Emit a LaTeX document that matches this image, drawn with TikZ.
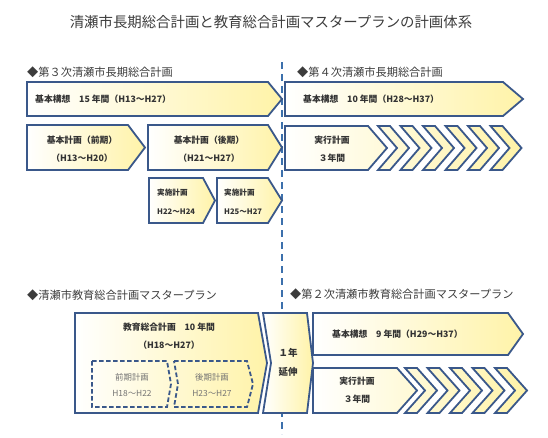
\documentclass[tikz,border=0pt]{standalone}
\usepackage{fontspec}
\setmainfont{Noto Sans CJK JP}
\definecolor{planblue}{RGB}{58,88,138}
\definecolor{lineblue}{RGB}{60,112,172}
\definecolor{planyellow}{RGB}{255,243,168}
\definecolor{headgray}{RGB}{60,60,60}

\begin{document}
\begin{tikzpicture}[
  x=1pt, y=-1pt,
  plan/.style={draw=planblue, line width=1.8pt, line join=miter,
    left color=white, right color=planyellow},
  subplan/.style={draw=planblue, line width=1.8pt, dash pattern=on 4.5pt off 2.5pt},
  divider/.style={draw=lineblue, line width=2.4pt, dash pattern=on 7pt off 5pt},
  title/.style={font=\fontsize{14.4}{16}\selectfont, text=headgray, inner sep=0pt},
  heading/.style={font=\fontsize{11.2}{13}\selectfont, text=headgray, anchor=west, inner sep=0pt},
  boxtext/.style={font=\bfseries\fontsize{8.8}{18}\selectfont, text=black!80, inner sep=0pt, align=center},
  smalltext/.style={font=\bfseries\fontsize{7.6}{19}\selectfont, text=black!80, inner sep=0pt, align=left, anchor=west},
  subtext/.style={font=\fontsize{8.4}{16}\selectfont, text=black!55, inner sep=0pt, align=center}
]
\useasboundingbox (0,0) rectangle (548,437);

% dividing line between the two periods
\draw[divider] (282,62) -- (282,434);

\node[title] (title) at (271,22) {清瀬市長期総合計画と教育総合計画マスタープランの計画体系};

% --- long-term plans ---
\node[heading] (head3) at (27,72) {◆第３次清瀬市長期総合計画};
\node[heading] (head4) at (297,72) {◆第４次清瀬市長期総合計画};

\path[plan] (27,82) -- (268,82) -- (282,99) -- (268,116) -- (27,116) -- cycle;
\node[boxtext, anchor=west] (kihon3) at (35,99) {基本構想　15 年間（H13～H27）};

\path[plan] (27,125) -- (128,125) -- (145,147.5) -- (128,170) -- (27,170) -- cycle;
\node[boxtext] (zenki) at (82,149) {基本計画（前期）\\（H13～H20）};

\path[plan] (148,125) -- (268,125) -- (282,147.5) -- (268,170) -- (148,170) -- cycle;
\node[boxtext] (kouki) at (209,149) {基本計画（後期）\\（H21～H27）};

\path[plan] (149,178) -- (203,178) -- (215,200.5) -- (203,223) -- (149,223) -- cycle;
\node[smalltext] (jisshi1) at (157,202) {実施計画\\H22～H24};

\path[plan] (217,178) -- (268,178) -- (282,200.5) -- (268,223) -- (217,223) -- cycle;
\node[smalltext] (jisshi2) at (224,202) {実施計画\\H25～H27};

\path[plan] (285,82) -- (503,82) -- (523,99) -- (503,116) -- (285,116) -- cycle;
\node[boxtext, anchor=west] (kihon4) at (303,99) {基本構想　10 年間（H28～H37）};

\path[plan] (285,126) -- (368,126) -- (387,148) -- (368,170) -- (285,170) -- cycle
  \foreach \i in {0,...,5} {
    ({378+22.5*\i},126) -- ++(12,0) -- ++(19,22) -- ++(-19,22) -- ++(-12,0) -- ++(19,-22) -- cycle
  };
\node[boxtext] (jikkou4) at (332,149) {実行計画\\３年間};

% --- education master plans ---
\node[heading] (headedu1) at (27,295) {◆清瀬市教育総合計画マスタープラン};
\node[heading] (headedu2) at (290,294) {◆第２次清瀬市教育総合計画マスタープラン};

\path[plan] (75,313) -- (258,313) -- (267,363) -- (258,413) -- (75,413) -- cycle;
\node[boxtext] (edu1) at (169,336.5) {教育総合計画　10 年間\\（H18～H27）};

\path[subplan] (92,361) -- (167,361) -- (171,384) -- (167,407) -- (92,407) -- cycle;
\node[subtext] (zenkiedu) at (132,385) {前期計画\\H18～H22};

\path[subplan] (174,361) -- (247,361) -- (253,384) -- (247,407) -- (174,407) -- (178,384) -- cycle;
\node[subtext] (koukiedu) at (212,385) {後期計画\\H23～H27};

\path[plan] (263,313) -- (307,313) -- (313,363) -- (307,413) -- (263,413) -- (271,363) -- cycle;
\node[boxtext, font=\bfseries\fontsize{9.5}{19}\selectfont] (encho) at (288,362.5) {１年\\延伸};

\path[plan] (313,313) -- (508,313) -- (523,334) -- (508,355) -- (313,355) -- cycle;
\node[boxtext, anchor=west] (kihonedu) at (332,334) {基本構想　9 年間（H29～H37）};

\path[plan] (313,368) -- (397,368) -- (417,390.5) -- (397,413) -- (313,413) -- cycle
  \foreach \i in {0,...,4} {
    ({405+22.5*\i},368) -- ++(12,0) -- ++(20,22.5) -- ++(-20,22.5) -- ++(-12,0) -- ++(20,-22.5) -- cycle
  };
\node[boxtext] (jikkouedu) at (357,390.5) {実行計画\\３年間};

\end{tikzpicture}
\end{document}
